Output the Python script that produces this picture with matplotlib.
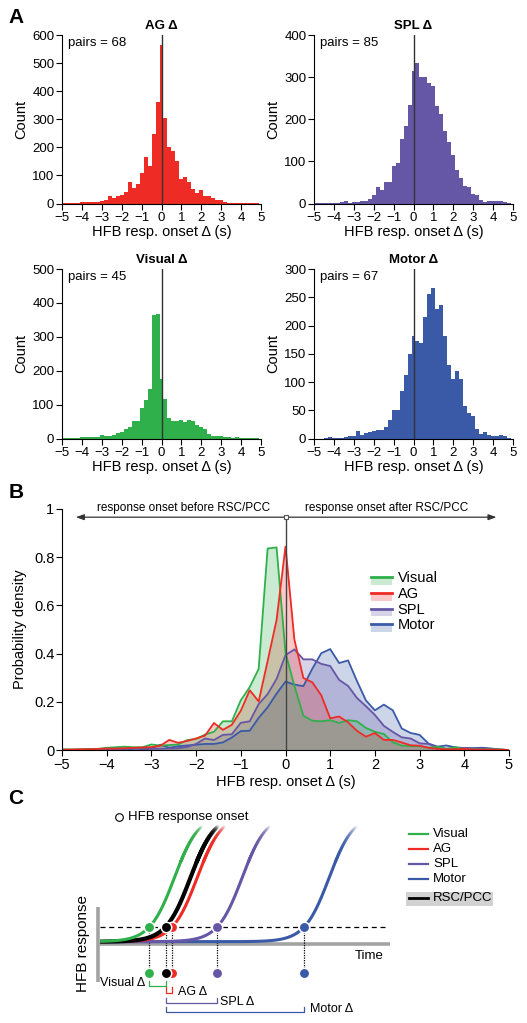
import numpy as np
import matplotlib
matplotlib.use("Agg")
import matplotlib.pyplot as plt
from matplotlib.collections import LineCollection
from matplotlib.colors import to_rgba
from matplotlib.patches import Rectangle

plt.rcParams.update({
    "font.family": ["Liberation Sans", "DejaVu Sans"],
    "font.size": 9.5,
    "axes.linewidth": 0.8,
    "xtick.major.width": 0.8, "ytick.major.width": 0.8,
    "xtick.major.size": 4, "ytick.major.size": 4,
    "xtick.major.pad": 2, "ytick.major.pad": 1.5,
})

# ── data: onset delta histograms (bin centres every 0.2 s) ──────────
bin_w = 0.2
centers = np.round(np.arange(-5.0, 5.0001, bin_w), 1)

ag_counts = [1, 1, 2, 2, 3, 4, 4, 5, 6, 7, 8, 12, 28, 20, 25, 32, 40, 75, 56, 70,
             109, 166, 135, 247, 361, 565, 306, 200, 188, 152, 88, 93, 77, 53, 37,
             47, 28, 28, 21, 13, 12, 6, 3, 2, 2, 3, 1, 1, 1, 1, 0]
spl_counts = [1, 1, 1, 1, 2, 2, 2, 3, 7, 2, 4, 4, 5, 6, 10, 20, 38, 33, 50, 52,
              90, 95, 152, 185, 235, 314, 333, 300, 300, 285, 278, 232, 212, 172,
              145, 116, 80, 60, 42, 38, 22, 20, 8, 4, 5, 7, 5, 5, 3, 1, 0]
visual_counts = [1, 1, 1, 2, 2, 4, 5, 6, 5, 5, 10, 8, 9, 10, 18, 20, 28, 33, 52, 52,
                 90, 114, 147, 365, 367, 176, 116, 62, 53, 52, 54, 49, 54, 52, 40,
                 33, 29, 14, 8, 7, 7, 4, 6, 2, 5, 1, 1, 1, 1, 1, 0]
motor_counts = [0, 0, 0, 1, 3, 1, 2, 2, 3, 4, 4, 14, 6, 10, 12, 14, 16, 16, 20, 33,
                50, 51, 85, 113, 149, 181, 173, 169, 215, 256, 267, 230, 237, 182,
                131, 105, 120, 105, 57, 45, 40, 17, 9, 12, 7, 5, 5, 6, 4, 1, 0]

regions = ["Visual", "AG", "SPL", "Motor"]
pairs = {"AG": 68, "SPL": 85, "Visual": 45, "Motor": 67}
counts = {"AG": ag_counts, "SPL": spl_counts, "Visual": visual_counts, "Motor": motor_counts}
colors = {"Visual": "#2fb04a", "AG": "#ee2b25", "SPL": "#6656a6", "Motor": "#3a5aa8",
          "RSC/PCC": "#000000"}

# schematic (panel C): threshold crossing times, arbitrary units
onset_t = {"Visual": 1.75, "RSC/PCC": 2.30, "AG": 2.53, "SPL": 4.07, "Motor": 7.05}

W, H = 527, 1023
fig = plt.figure(figsize=(W / 100, H / 100), dpi=100)


def px_rect(left, top, right, bottom):
    return [left / W, 1 - bottom / H, (right - left) / W, (bottom - top) / H]


def style(ax):
    for s in ("top", "right"):
        ax.spines[s].set_visible(False)
    ax.tick_params(direction="out", labelsize=9.5)


# ── Panel A ─────────────────────────────────────────────────────────
hist_layout = [
    ("AG", px_rect(62, 35, 261, 203.5), 600, 100),
    ("SPL", px_rect(314, 35, 513, 203.5), 400, 100),
    ("Visual", px_rect(62, 269, 261, 438.7), 500, 100),
    ("Motor", px_rect(314, 269, 513, 438.7), 300, 50),
]
for name, rect, ymax, ystep in hist_layout:
    ax = fig.add_axes(rect)
    style(ax)
    ax.bar(centers, counts[name], width=bin_w, color=colors[name], linewidth=0)
    ax.axvline(0, color="#333333", lw=1)
    ax.set_xlim(-5, 5)
    ax.set_ylim(0, ymax)
    ax.set_xticks(range(-5, 6))
    ax.set_yticks(np.arange(0, ymax + 1, ystep))
    ax.set_title(name + " Δ", fontweight="bold", fontsize=9.5, pad=4)
    ax.text(0.03, 0.95, f"pairs = {pairs[name]}", transform=ax.transAxes,
            fontsize=9.5, va="center", ha="left")
    ax.set_xlabel("HFB resp. onset Δ (s)", fontsize=10.5, labelpad=1)
    ax.set_ylabel("Count", fontsize=10.5, labelpad=3)

# ── Panel B ─────────────────────────────────────────────────────────
axb = fig.add_axes(px_rect(62, 509, 509, 750))
style(axb)
axb.tick_params(labelsize=10.5)
for name in ["Motor", "SPL", "AG", "Visual"]:
    c = np.asarray(counts[name], float)
    dens = c / (c.sum() * bin_w)
    axb.fill_between(centers, dens, color=colors[name], alpha=0.25, lw=0)
for name in ["Motor", "SPL", "Visual", "AG"]:
    c = np.asarray(counts[name], float)
    dens = c / (c.sum() * bin_w)
    axb.plot(centers, dens, color=colors[name], lw=1.3)
axb.set_xlim(-5, 5)
axb.set_ylim(0, 1)
axb.set_xticks(range(-5, 6))
axb.set_yticks([0, 0.2, 0.4, 0.6, 0.8, 1])
axb.set_yticklabels(["0", "0.2", "0.4", "0.6", "0.8", "1"])
axb.set_xlabel("HFB resp. onset Δ (s)", fontsize=10.5, labelpad=2)
axb.set_ylabel("Probability density", fontsize=10.5, labelpad=5)

arrow_y = 0.966
axb.plot([0, 0], [0, arrow_y], color="#444444", lw=1, zorder=5)
for x_end in (-4.69, 4.72):
    axb.annotate("", xy=(x_end, arrow_y), xytext=(0, arrow_y),
                 arrowprops=dict(arrowstyle="-|>,head_length=0.5,head_width=0.18",
                                 color="#333333", lw=0.9, shrinkA=0, shrinkB=0),
                 annotation_clip=False)
axb.plot(0, arrow_y, "s", ms=3.5, mfc="white", mec="#555555", mew=0.8, zorder=6,
         clip_on=False)
axb.text(-2.29, 1.003, "response onset before RSC/PCC", ha="center", va="center",
         fontsize=8.5, clip_on=False)
axb.text(2.26, 1.003, "response onset after RSC/PCC", ha="center", va="center",
         fontsize=8.5, clip_on=False)

for i, name in enumerate(regions):
    ly = 0.717 - i * 0.065
    axb.add_patch(Rectangle((0.691, ly - 0.032), 0.047, 0.032, transform=axb.transAxes,
                            color=colors[name], alpha=0.25, lw=0))
    axb.plot([0.691, 0.738], [ly, ly], transform=axb.transAxes, color=colors[name], lw=2)
    axb.text(0.751, ly - 0.005, name, transform=axb.transAxes, va="center",
             fontsize=10.5)

# ── Panel C (schematic) ─────────────────────────────────────────────
axc = fig.add_axes(px_rect(0, 780, 527, 1023))
axc.set_xlim(-3.37, 14.68)
axc.set_ylim(-5.42, 10.78)
axc.axis("off")

gray = "#a3a3a3"
axc.plot([0, 0], [-2.67, 2.33], color=gray, lw=2.6, solid_capstyle="butt", zorder=1)
axc.plot([0, 9.99], [-0.17, -0.17], color=gray, lw=2.6, solid_capstyle="butt", zorder=1)
axc.plot([0.06, 9.9], [1, 1], color="black", lw=0.9, ls=(0, (4, 3)), zorder=2)
axc.text(8.77, -0.93, "Time", fontsize=9.5, va="center", ha="left")
axc.text(-0.52, -0.1, "HFB response", fontsize=11, rotation=90, va="center", ha="center")

R_TOP, R_FADE, H_SIG, MID, SCL = 7.7, 5.3, 8.5, 0.85, 0.42


def fade_curve(ax, t0, color, lw, z):
    t_end = t0 + MID - SCL * np.log(H_SIG / R_TOP - 1)
    t = np.linspace(0.06, t_end, 600)
    r = H_SIG / (1 + np.exp(-(t - t0 - MID) / SCL))
    solid = r <= R_FADE
    k = solid.sum()
    ax.plot(t[:k + 1], r[:k + 1], color=color, lw=lw, solid_capstyle="butt", zorder=z)
    pts = np.column_stack([t[k:], r[k:]]).reshape(-1, 1, 2)
    segs = np.concatenate([pts[:-1], pts[1:]], axis=1)
    rm = 0.5 * (r[k:-1] + r[k + 1:])
    rgba = np.tile(to_rgba(color), (len(segs), 1))
    rgba[:, 3] = np.clip((R_TOP - rm) / (R_TOP - R_FADE), 0, 1)
    ax.add_collection(LineCollection(segs, colors=rgba, linewidths=lw,
                                     capstyle="round", zorder=z))


draw_order = ["Motor", "SPL", "AG", "RSC/PCC", "Visual"]
for k, name in enumerate(draw_order):
    fade_curve(axc, onset_t[name], colors[name], 3.0 if name == "RSC/PCC" else 2.2,
               3 + k * 0.1)

low_r = -2.1
for name in ["Visual", "AG", "SPL", "Motor", "RSC/PCC"]:
    t0 = onset_t[name]
    axc.plot([t0, t0], [1, low_r], color="black", lw=0.9, ls=(0, (1, 1)), zorder=2)
    for rr in (1, low_r):
        axc.plot(t0, rr, "o", ms=7.5, mfc=colors[name], mec="white", mew=1.1, zorder=6)

# brackets
t_ref = onset_t["RSC/PCC"]
brackets = [("Visual", -2.95, 0.33), ("AG", -3.44, 0.40), ("SPL", -4.11, 0.34),
            ("Motor", -4.71, 0.38)]
for name, yb, hb in brackets:
    ta, tb = sorted([onset_t[name], t_ref])
    axc.plot([ta, ta, tb, tb], [yb + hb, yb, yb, yb + hb], color=colors[name], lw=0.9,
             zorder=2)
axc.text(1.62, -2.78, "Visual Δ", ha="right", va="center", fontsize=9)
axc.text(2.72, -3.33, "AG Δ", ha="left", va="center", fontsize=9)
axc.text(4.17, -4.0, "SPL Δ", ha="left", va="center", fontsize=9)
axc.text(7.25, -4.51, "Motor Δ", ha="left", va="center", fontsize=9)

axc.plot(0.71, 8.33, "o", ms=5.5, mfc="white", mec="black", mew=0.8)
axc.text(1.02, 8.33, "HFB response onset", ha="left", va="center", fontsize=9.5)

# legend (panel C)
axc.add_patch(Rectangle((10.54, 2.4), 2.98, 0.93, color="#d2d2d2", lw=0, zorder=1))
leg_rows = [("Visual", 7.16), ("AG", 6.16), ("SPL", 5.16), ("Motor", 4.18),
            ("RSC/PCC", 2.89)]
for name, ry in leg_rows:
    axc.plot([10.64, 11.29], [ry, ry], color=colors[name],
             lw=2.0 if name == "RSC/PCC" else 1.6, zorder=2)
    axc.text(11.46, ry, name, va="center", ha="left", fontsize=9.5, zorder=3)

# panel letters
for letter, ypx in (("A", 17.5), ("B", 493), ("C", 799)):
    fig.text(16 / W, 1 - ypx / H, letter, fontsize=15, fontweight="bold",
             ha="center", va="center")

fig.savefig("out.png", dpi=100, facecolor="white")
